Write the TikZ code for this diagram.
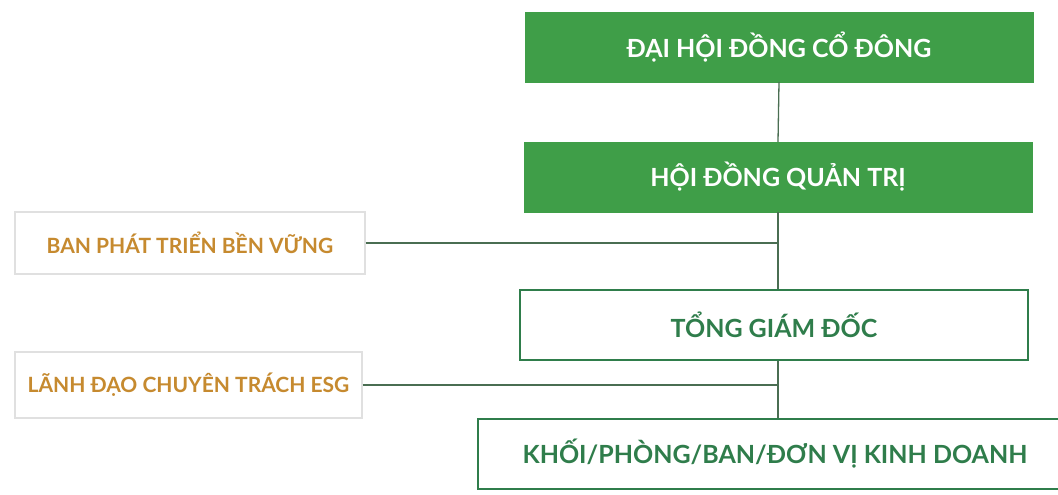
\documentclass[tikz,border=0pt]{standalone}
\usepackage{fontspec}
\setmainfont{Lato}
\usetikzlibrary{positioning}
\definecolor{boardgreen}{HTML}{3F9E48}
\definecolor{darkgreen}{HTML}{2F7D4B}
\definecolor{esgorange}{HTML}{C68A2F}
\definecolor{linkgray}{HTML}{4A6E52}
\begin{document}
\begin{tikzpicture}[
  x=1pt, y=-1pt,
  greenbox/.style={draw=boardgreen, fill=boardgreen, text=white, minimum width=508pt, minimum height=70pt, font=\bfseries\fontsize{25}{29}\selectfont},
  whitebox/.style={draw=darkgreen, line width=1.2pt, fill=white, text=darkgreen, minimum height=70pt, font=\bfseries\fontsize{25}{29}\selectfont},
  sidebox/.style={draw=black!12, line width=1.2pt, fill=white, text=esgorange, minimum width=350pt, minimum height=62pt, font=\bfseries\fontsize{21}{25}\selectfont},
  link/.style={draw=linkgray, line width=1.3pt}
]
\useasboundingbox (0,0) rectangle (1058,495);
\node[greenbox] (dhd) at (779,47) {ĐẠI HỘI ĐỒNG CỔ ĐÔNG};
\node[greenbox] (hdqt) at (778,177) {HỘI ĐỒNG QUẢN TRỊ};
\node[whitebox, minimum width=508pt] (tgd) at (774,325) {TỔNG GIÁM ĐỐC};
\node[whitebox, minimum width=594pt] (khoi) at (775,454) {KHỐI/PHÒNG/BAN/ĐƠN VỊ KINH DOANH};
\node[sidebox] (ban) at (190,243) {BAN PHÁT TRIỂN BỀN VỮNG};
\node[sidebox, minimum width=347pt, minimum height=66pt] (lanh) at (188.5,385) {LÃNH ĐẠO CHUYÊN TRÁCH ESG};
% connectors
\path[link] (dhd.south) -- (hdqt.north);
\path[link] (hdqt.south) -- (hdqt.south |- tgd.north);
\path[link] (ban.east) -- (ban.east -| hdqt.south);
\path[link] (tgd.south -| hdqt.south) -- (khoi.north -| hdqt.south);
\path[link] (lanh.east) -- (lanh.east -| hdqt.south);
\end{tikzpicture}
\end{document}
